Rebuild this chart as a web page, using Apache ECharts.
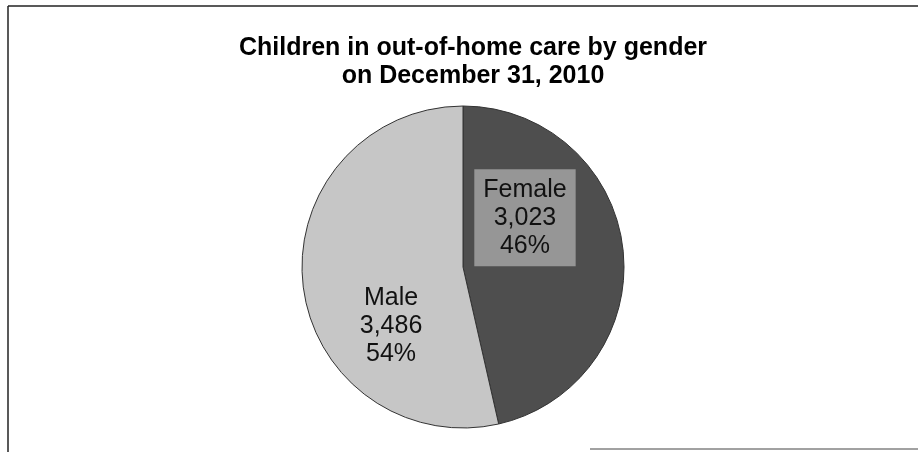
<!DOCTYPE html>
<html>
<head>
<meta charset="utf-8">
<title>Children in out-of-home care by gender</title>
<script src="https://cdn.jsdelivr.net/npm/echarts@6/dist/echarts.min.js"></script>
<style>
  html, body { margin: 0; padding: 0; background: #ffffff; }
  #chart { width: 918px; height: 452px; }
</style>
</head>
<body>
<div id="chart"></div>
<script>
// Children in out-of-home care on December 31, 2010, by gender
const categories = ['Female', 'Male'];
const counts = [3023, 3486];
const sliceColors = ['#4e4e4e', '#c6c6c6'];

const chart = echarts.init(document.getElementById('chart'), null, { renderer: 'canvas' });

const labelFont = { fontFamily: 'Liberation Sans, Arial, sans-serif', fontSize: 25, lineHeight: 28, color: '#111' };

function labelText(p) {
  return p.name + '\n' + p.value.toLocaleString('en-US') + '\n' + Math.round(p.percent) + '%';
}

chart.setOption({
  backgroundColor: '#ffffff',
  animation: false,
  title: {
    text: 'Children in out-of-home care by gender\non December 31, 2010',
    left: 468,
    top: 29,
    textAlign: 'center',
    textStyle: {
      fontFamily: 'Liberation Sans, Arial, sans-serif',
      fontWeight: 'bold',
      fontSize: 25,
      lineHeight: 28,
      color: '#000'
    }
  },
  graphic: [
    { type: 'line', shape: { x1: 8, y1: 6, x2: 918, y2: 6 }, style: { stroke: '#222', lineWidth: 1.5 } },
    { type: 'line', shape: { x1: 8, y1: 6, x2: 8, y2: 452 }, style: { stroke: '#222', lineWidth: 1.5 } },
    { type: 'line', shape: { x1: 590, y1: 449, x2: 918, y2: 449 }, style: { stroke: '#444', lineWidth: 1 } }
  ],
  series: [{
    type: 'pie',
    center: [463, 267],
    radius: 161,
    startAngle: 90,
    clockwise: true,
    silent: true,
    itemStyle: { borderColor: '#333', borderWidth: 1 },
    label: { show: true, position: 'inside', formatter: labelText },
    labelLine: { show: false },
    data: categories.map((name, i) => ({
      name: name,
      value: counts[i],
      itemStyle: { color: sliceColors[i] },
      label: i === 0
        ? Object.assign({ backgroundColor: '#969696', padding: [7, 9, 6, 9], offset: [-21, -40] }, labelFont)
        : Object.assign({ offset: [11, 50] }, labelFont)
    }))
  }]
});
</script>
</body>
</html>
